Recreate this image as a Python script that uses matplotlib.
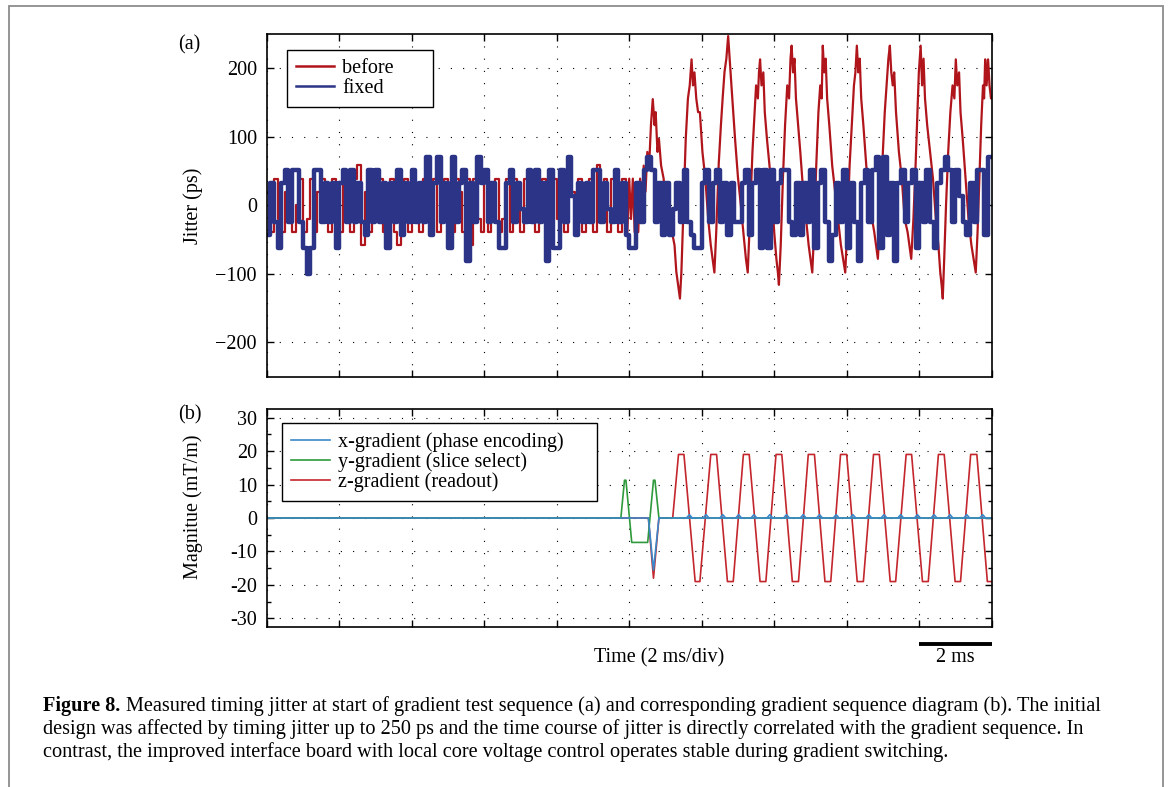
import numpy as np
import matplotlib
matplotlib.use('Agg')
import matplotlib.pyplot as plt
import matplotlib.transforms as mtransforms
from matplotlib.patches import Rectangle
from matplotlib.ticker import MultipleLocator

plt.rcParams['font.family'] = ['Liberation Serif', 'DejaVu Serif']
plt.rcParams['font.size'] = 14.5

# ---------------- (a) timing jitter, ps ----------------
# traces are quantised; values below are read as step indices
red_step = 19.5
blue_step = 19.0
blue_off = -5.0
dt_a = 0.1   # ms between read samples

# "before", 0 .. 9.8 ms (noise band before gradients start)
red_k = [1, -2, 2, -1, -2, 1, 2, -2, 0, 2, -2, -1, 2, -2, 1, 2, -1, -2, 2, 1,
         -2, 2, -1, -2, 2, 3, -3, 1, -2, 2, -1, 2, -2, 0, 2, -2, -3, 1, 2, -2,
         2, -1, -2, 2, 1, -2, 2, -2, 0, 2, -1, -2, 2, 1, -2, 2, -3, 2, -1, -2,
         2, -2, 1, 2, -2, -1, 2, -2, 2, 0, -2, 2, -1, 2, -2, 1, 2, -2, -2, 2,
         -1, 2, -2, 2, 1, -2, 2, -2, 0, 2, -2, 3, -1, 2, -2, 2, 1, -2, 2]

# "before", 9.9 .. 20 ms (follows the readout gradient)
red_tail_t = [9.90, 9.95, 10.00, 10.05, 10.10, 10.15, 10.20, 10.25, 10.30, 10.35,
              10.40, 10.45, 10.50, 10.55, 10.60, 10.65, 10.70, 10.73, 10.78, 10.82,
              10.88, 10.95, 11.00, 11.05, 11.10, 11.18, 11.25, 11.30, 11.35, 11.40,
              11.44, 11.50, 11.56, 11.62, 11.67, 11.72, 11.76, 11.80, 11.85, 11.90, 11.95, 12.02, 12.10, 12.18, 12.25, 12.30, 12.35,
              12.40, 12.47, 12.53, 12.58, 12.63, 12.68, 12.73, 12.77, 12.82, 12.87, 12.92, 13.00, 13.08, 13.15, 13.22, 13.27,
              13.33, 13.40, 13.46, 13.50, 13.55, 13.58, 13.61, 13.65, 13.70, 13.74, 13.80, 13.87, 13.93, 14.00, 14.06, 14.10, 14.13,
              14.18, 14.24, 14.30, 14.36, 14.41, 14.45, 14.48, 14.52, 14.56, 14.60, 14.66, 14.72, 14.80, 14.88, 14.95, 15.00, 15.05,
              15.10, 15.16, 15.22, 15.27, 15.31, 15.34, 15.38, 15.42, 15.46, 15.52, 15.60, 15.68, 15.76, 15.84, 15.90, 15.96,
              16.01, 16.08, 16.14, 16.20, 16.24, 16.28, 16.32, 16.36, 16.40, 16.46, 16.54, 16.62, 16.70, 16.76, 16.81, 16.86,
              16.92, 16.98, 17.05, 17.10, 17.15, 17.19, 17.23, 17.27, 17.31, 17.36, 17.44, 17.52, 17.60, 17.68, 17.73, 17.78,
              17.84, 17.90, 17.95, 17.99, 18.04, 18.08, 18.12, 18.16, 18.22, 18.30, 18.38, 18.46, 18.53, 18.58, 18.62, 18.65,
              18.69, 18.74, 18.80, 18.86, 18.92, 18.97, 19.01, 19.05, 19.10, 19.14, 19.20, 19.28, 19.36, 19.44, 19.50, 19.56,
              19.61, 19.66, 19.71, 19.76, 19.79, 19.82, 19.86, 19.90, 19.94, 19.98, 20.00]
red_tail_v = [20, -39, 39, -20, 39, -39, 20, -39, 39, 0,
              58, 20, 78, 58, 117, 155, 117, 136, 78, 97,
              58, 39, 0, 20, -20, -39, -58, -97, -117, -136,
              -97, 0, 97, 156, 175, 213, 175, 194, 156, 136, 136, 78, 39, -20, -58, -78, -98,
              -40, 61, 117, 158, 195, 214, 247, 214, 175, 136, 97, 41, 0, -40, -78, -98,
              -20, 78, 136, 175, 156, 194, 213, 175, 194, 136, 97, 58, 20, -39, -78, -97, -116,
              -58, 39, 117, 175, 156, 214, 233, 194, 214, 156, 117, 78, 20, -20, -58, -78, -98,
              -39, 58, 136, 175, 156, 233, 194, 214, 156, 117, 58, 20, -20, -58, -78, -98,
              -39, 58, 117, 175, 194, 233, 194, 214, 156, 117, 58, 20, -20, -39, -58, -78,
              -20, 58, 136, 175, 214, 233, 194, 175, 194, 136, 78, 39, -20, -39, -58, -78,
              -20, 58, 136, 194, 233, 175, 214, 156, 117, 78, 39, -20, -58, -97, -117, -136,
              -78, 0, 78, 136, 175, 156, 213, 175, 194, 136, 97, 39, -20, -58, -78, -98,
              -39, 39, 117, 175, 156, 213, 175, 213, 175, 156, 156]

# "fixed", 0 .. 19.9 ms
blue_k = [-2, 2, -1, -3, 2, 3, -1, 3, 3, -1, -3, -5, -3, 3, 3, -1, 2, -1, 2, -3,
          2, 3, -1, 3, -1, 2, -1, -2, 3, -1, 3, -1, 2, -3, 2, -1, 3, -2, 2, -1,
          3, -1, 2, -1, 4, -2, 2, 4, -1, 2, -3, 4, -1, 2, 3, -4, 2, -1, 4, 2,
          3, -1, 2, -1, -3, -3, 2, 3, -1, 2, 0, -1, 3, -1, 3, -1, 2, -4, 3, -3,
          -3, 3, -1, 4, 1, -2, 2, -1, 2, -1, 3, 3, -1, 2, 0, -1, 3, -1, 2, -2,
          -3, -3, 2, -1, 3, 4, 3, -1, 2, -2, 2, -2, 0, 2, -1, 3, -1, -2, -3, -3,
          2, 3, -1, 2, 3, -1, 2, -2, 2, -1, -1, 2, 3, -2, 2, 3, -3, 3, -3, 3,
          -1, 2, 3, 3, -1, -2, 2, -2, 2, -1, 3, -3, 2, 3, -1, -4, -2, 2, -1, 3,
          -3, 2, -1, -4, 2, 3, -1, 3, 4, -3, 4, -2, 2, -4, 2, 3, -1, 2, 3, -3,
          2, -1, 3, -1, -3, 2, 3, 4, 3, -1, 3, 1, -1, -2, 2, -1, 3, 3, -2, 4]

# ---------------- (b) gradient sequence, mT/m ----------------
x_t = [0.0, 10.53, 10.67, 10.82, 20.0]
x_v = [0, 0, -15.6, 0, 0]
# small phase-encoding blips at the readout zero crossings
x_blip_t = [11.66, 12.12, 12.58, 13.02, 13.44, 13.88, 14.34, 14.80, 15.25, 15.71,
            16.17, 16.61, 17.03, 17.49, 17.95, 18.41, 18.85, 19.31, 19.75]
x_blip_v = 1.0

y_t = [0.0, 9.77, 9.87, 9.91, 10.07, 10.51, 10.67, 10.71, 10.82, 20.0]
y_v = [0, 0, 11.3, 11.3, -7.3, -7.3, 11.3, 11.3, 0, 0]

z_t = [0.0, 10.53, 10.67, 10.82, 11.20,
       11.36, 11.51, 11.82, 11.95, 12.25, 12.41, 12.71, 12.87, 13.15, 13.31,
       13.61, 13.77, 14.05, 14.21, 14.50, 14.67, 14.94, 15.11, 15.40, 15.56,
       15.83, 16.00, 16.29, 16.46, 16.74, 16.90, 17.20, 17.35, 17.64, 17.79,
       18.09, 18.25, 18.53, 18.69, 18.99, 19.14, 19.42, 19.59, 19.88, 20.0]
z_v = [0, 0, -18, 0, 0,
       19, 19, -19, -19, 19, 19, -19, -19, 19, 19,
       -19, -19, 19, 19, -19, -19, 19, 19, -19, -19,
       19, 19, -19, -19, 19, 19, -19, -19, 19, 19,
       -19, -19, 19, 19, -19, -19, 19, 19, -19, -19]

c_before = '#b0151c'
c_fixed = '#2c3487'
c_x = '#3a88c9'
c_y = '#2e9a3c'
c_z = '#c3262c'

W, H = 1171, 787
fig = plt.figure(figsize=(W / 100, H / 100), dpi=100)

# grey frame round the figure (bottom edge is off the page)
fig.patches.append(Rectangle((8.5 / W, -0.05), (1163 - 8.5) / W, 1.05 - 6.5 / H,
                             transform=fig.transFigure, fill=False,
                             edgecolor='#8c8c8c', linewidth=1.3))

def px_axes(l, t, r, b):
    return fig.add_axes([l / W, 1 - b / H, (r - l) / W, (b - t) / H])

ax1 = px_axes(266.7, 34, 991.7, 376.7)
ax2 = px_axes(266.7, 409.3, 991.7, 626.7)

def style(ax):
    ax.set_xlim(0, 20)
    ax.xaxis.set_major_locator(MultipleLocator(2))
    ax.tick_params(which='both', direction='in', top=True, right=True,
                   labelbottom=False, width=1.0, pad=7)
    ax.tick_params(which='major', length=5)
    ax.tick_params(which='minor', length=3)
    for s in ax.spines.values():
        s.set_linewidth(1.2)
    ax.grid(True, which='major', color='black', linewidth=0.8,
            linestyle=(0, (1, 10)))
    ax.set_axisbelow(True)

leg_kw = dict(loc='upper left', borderaxespad=0, fancybox=False,
              edgecolor='black', framealpha=1, handlelength=1.9,
              handletextpad=0.4, labelspacing=0.02, borderpad=0.45)

# ---- panel (a)
red_pre_t = np.arange(len(red_k)) * dt_a
red_pre_v = np.array(red_k) * red_step
ax1.plot(np.append(red_pre_t, red_tail_t[0]), np.append(red_pre_v, red_tail_v[0]),
         color=c_before, lw=1.6, drawstyle='steps-post')
l_before, = ax1.plot(red_tail_t, red_tail_v, color=c_before, lw=1.6)

blue_t = np.arange(len(blue_k)) * dt_a
blue_v = np.array(blue_k) * blue_step + blue_off
l_fixed, = ax1.plot(np.append(blue_t, 20.0), np.append(blue_v, blue_v[-1]),
                    color=c_fixed, lw=3.2, drawstyle='steps-post')

ax1.set_ylim(-250, 250)
ax1.set_yticks([-200, -100, 0, 100, 200])
style(ax1)
ax1.set_ylabel('Jitter (ps)')
ax1.yaxis.set_label_coords((203 - 266.7) / 725, 0.5)
leg1 = ax1.legend([l_before, l_fixed], ['before      ', 'fixed'],
                  bbox_to_anchor=(0.028, 0.953), **leg_kw)
leg1.get_frame().set_linewidth(1.0)
for h in leg1.legend_handles:
    h.set_linewidth(1.8)

# ---- panel (b)
lz, = ax2.plot(z_t, z_v, color=c_z, lw=1.2)
ly, = ax2.plot(y_t, y_v, color=c_y, lw=1.2)
lx, = ax2.plot(x_t, x_v, color=c_x, lw=1.2)
blip_w = 0.08
for tc in x_blip_t:
    ax2.plot([tc - blip_w, tc, tc + blip_w], [0, x_blip_v, 0], color=c_x, lw=1.2)

ax2.set_ylim(-32.5, 32.5)
ticks_b = [-30, -20, -10, 0, 10, 20, 30]
ax2.set_yticks(ticks_b)
ax2.set_yticklabels([str(v) for v in ticks_b])
ax2.yaxis.set_minor_locator(MultipleLocator(5))
style(ax2)
ax2.set_ylabel('Magnitue (mT/m)')
ax2.yaxis.set_label_coords((203 - 266.7) / 725, 0.552)
leg2 = ax2.legend([lx, ly, lz], ['x-gradient (phase encoding)     ', 'y-gradient (slice select)',
                                 'z-gradient (readout)'],
                  bbox_to_anchor=(0.0215, 0.938), **leg_kw)
leg2.get_frame().set_linewidth(1.0)

# scale bar: one division = 2 ms
bar_tr = mtransforms.blended_transform_factory(ax2.transData, fig.transFigure)
ax2.plot([18, 20], [1 - 644 / H] * 2, color='black', lw=2.8,
         transform=bar_tr, clip_on=False, solid_capstyle='butt')
ax2.text(19, 1 - 658 / H, '2 ms', transform=bar_tr, ha='center', va='center')
fig.text(659 / W, 1 - 658 / H, 'Time (2 ms/div)', ha='center', va='center')

fig.text(178 / W, 1 - 45 / H, '(a)', va='center')
fig.text(178 / W, 1 - 415 / H, '(b)', va='center')

# ---- caption
cap_bold = 'Figure 8.'
cap_lines = ['Measured timing jitter at start of gradient test sequence (a) and corresponding gradient sequence diagram (b). The initial',
             'design was affected by timing jitter up to 250 ps and the time course of jitter is directly correlated with the gradient sequence. In',
             'contrast, the improved interface board with local core voltage control operates stable during gradient switching.']
cap_base = [710.7, 734, 757.3]
cap_x0, cap_x1 = 43.3, 1102

renderer = fig.canvas.get_renderer()
fs = 12.5
tb = fig.text(cap_x0 / W, 1 - cap_base[0] / H, cap_bold + ' ', fontweight='bold',
              fontsize=fs, va='baseline')
t1 = fig.text(0, 1 - cap_base[0] / H, cap_lines[0], fontsize=fs, va='baseline')
wb = tb.get_window_extent(renderer).width
w1 = t1.get_window_extent(renderer).width
fs = fs * (cap_x1 - cap_x0) / (wb + w1)
tb.set_fontsize(fs)
t1.set_fontsize(fs)
wb = tb.get_window_extent(renderer).width
t1.set_x((cap_x0 + wb) / W)
for line, yb in zip(cap_lines[1:], cap_base[1:]):
    fig.text(cap_x0 / W, 1 - yb / H, line, fontsize=fs, va='baseline')

fig.savefig('out.png', dpi=100)
